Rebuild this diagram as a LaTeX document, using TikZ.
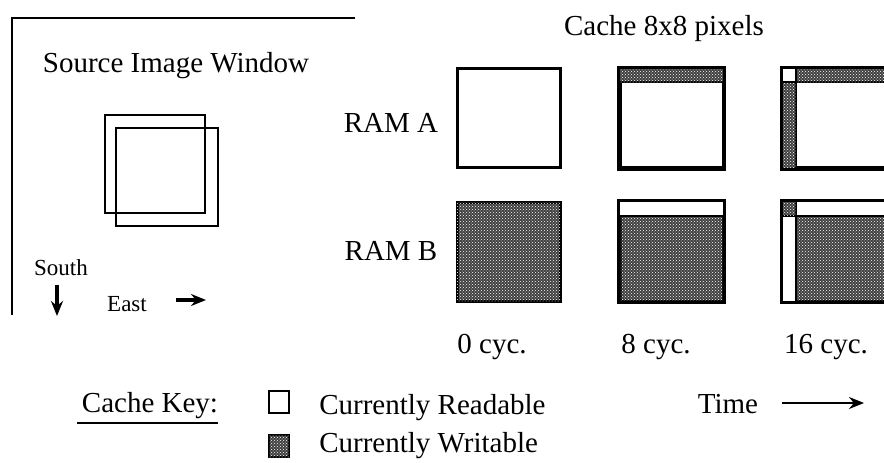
\documentclass[tikz,border=0pt]{standalone}
\usepackage{fontspec}
\setmainfont{Liberation Serif}
\usetikzlibrary{arrows.meta, patterns, positioning}

\tikzset{
  lbl/.style={inner sep=0pt, anchor=base, font=\fontsize{29}{32}\selectfont},
  small/.style={inner sep=0pt, anchor=base, font=\fontsize{23}{26}\selectfont},
  cachebox/.style={draw, line width=3pt, minimum width=103pt, minimum height=99pt, inner sep=0pt},
  keybox/.style={draw, line width=2pt, minimum width=20pt, minimum height=22pt, inner sep=0pt},
  writable/.style={fill=black!75, postaction={pattern=crosshatch dots, pattern color=white}},
  readable/.style={fill=white},
}

\begin{document}
\begin{tikzpicture}[x=1pt, y=-1pt, >={Stealth[length=15pt, width=12pt]}, line width=2.5pt]
  \useasboundingbox (0,0) rectangle (884,463);
  % --- source image window ---
  \coordinate (frameTR) at (355,18); \coordinate (frameC) at (12,18); \coordinate (frameBL) at (12,315);
  \draw (frameTR) -- (frameC) -- (frameBL);
  \node[lbl] (srcTitle) at (176,72) {Source Image Window};
  \draw[line width=2pt] (105,115) rectangle (205,213);
  \draw[line width=2pt] (116,128) rectangle (218,226);
  \node[small] (south) at (61,275) {South};
  \coordinate (sTop) at (57,285); \coordinate (sBot) at (57,316);
  \draw[->, line width=3.5pt] (sTop) -- (sBot);
  \node[small] (east) at (127,311) {East};
  \coordinate (eL) at (176,300); \coordinate (eR) at (206,300);
  \draw[->, line width=3.5pt] (eL) -- (eR);
  % --- cache ---
  \node[lbl] (cacheTitle) at (664,35) {Cache 8x8 pixels};
  \node[lbl] (ramA) at (391,132) {RAM A};
  \node[lbl] (ramB) at (391,260) {RAM B};
  % 0 cycles
  \node[cachebox, readable] (a0) at (508.5,118) {};
  \node[cachebox, writable] (b0) at (508.5,251.5) {};
  % 8 cycles
  \node[cachebox, readable] (a8) at (671.5,118) {};
  \draw[writable, line width=2pt] (a8.north west) rectangle ([yshift=-15pt]a8.north east);
  \node[cachebox, writable] (b8) at (671.5,251.5) {};
  \draw[readable, line width=2pt] (b8.north west) rectangle ([yshift=-15pt]b8.north east);
  \draw[line width=3pt] (a8.north west) rectangle (a8.south east);
  \draw[line width=3pt] (b8.north west) rectangle (b8.south east);
  % 16 cycles
  \node[cachebox, readable] (a16) at (834.5,118) {};
  \draw[writable, line width=2pt] ([xshift=14pt]a16.north west) rectangle ([yshift=-15pt]a16.north east);
  \draw[writable, line width=2pt] ([yshift=-15pt]a16.north west) rectangle ([xshift=14pt]a16.south west);
  \draw[readable, line width=2pt] (a16.north west) rectangle ([xshift=14pt, yshift=-15pt]a16.north west);
  \node[cachebox, writable] (b16) at (834.5,251.5) {};
  \draw[readable, line width=2pt] ([xshift=14pt]b16.north west) rectangle ([yshift=-15pt]b16.north east);
  \draw[readable, line width=2pt] ([yshift=-15pt]b16.north west) rectangle ([xshift=14pt]b16.south west);
  \draw[writable, line width=2pt] (b16.north west) rectangle ([xshift=14pt, yshift=-15pt]b16.north west);
  \draw[line width=3pt] (a16.north west) rectangle (a16.south east);
  \draw[line width=3pt] (b16.north west) rectangle (b16.south east);
  \node[lbl] (cyc0) at (492,353) {0 cyc.};
  \node[lbl] (cyc8) at (656,353) {8 cyc.};
  \node[lbl] (cyc16) at (826,353) {16 cyc.};
  % --- key ---
  \node[lbl] (keyTitle) at (150,412) {Cache Key:};
  \coordinate (ulL) at (77,423); \coordinate (ulR) at (218,423);
  \draw[line width=2pt] (ulL) -- (ulR);
  \node[keybox, readable] (keyR) at (279,402) {};
  \node[keybox, writable] (keyW) at (279,446) {};
  \node[lbl, anchor=base west] (txtR) at (318,414) {Currently Readable};
  \node[lbl, anchor=base west] (txtW) at (318,452) {Currently Writable};
  \node[lbl] (time) at (728,413) {Time};
  \coordinate (tStart) at (782,403); \coordinate (tEnd) at (864,403);
  \draw[->, line width=2.2pt] (tStart) -- (tEnd);
\end{tikzpicture}
\end{document}
